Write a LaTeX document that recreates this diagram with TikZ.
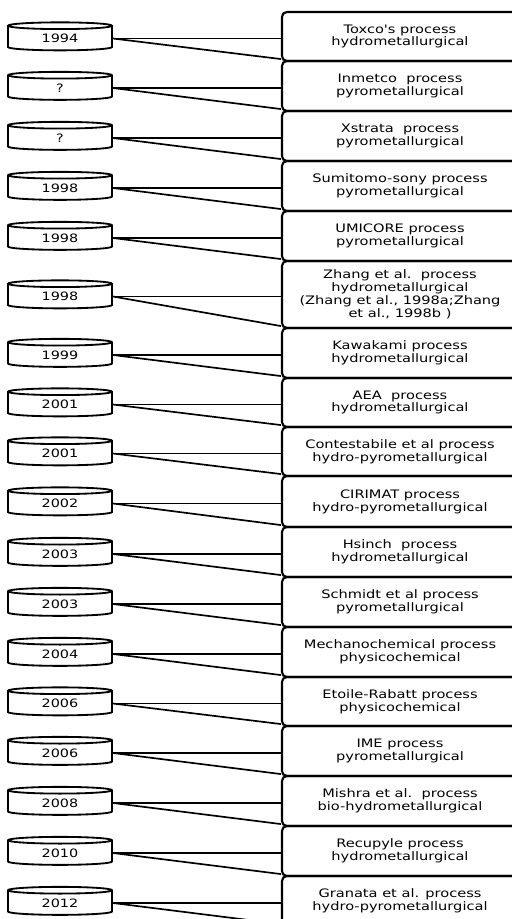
\documentclass[tikz,border=0pt]{standalone}
\usepackage{fontspec}
\setmainfont[FakeStretch=1.25, Ligatures=TeXOff]{DejaVu Sans}
\usetikzlibrary{shapes.geometric, calc}

\tikzset{
  yeardisk/.style={cylinder, shape border rotate=90, draw, line width=1.3pt,
    minimum width=2.6cm, minimum height=0.7cm, aspect=0.07, inner sep=0pt,
    text width=2.4cm, align=center, font=\fontsize{8.2}{8}\selectfont},
  procbox/.style={rectangle, rounded corners=3.5pt, draw, line width=1.5pt,
    minimum width=5.9cm, align=center, inner sep=0pt,
    font=\fontsize{8.3}{9.1}\selectfont},
  link/.style={line width=1.2pt}
}

\begin{document}
\begin{tikzpicture}[x=0.025cm, y=-0.025cm]
  \useasboundingbox (0,0) rectangle (512,919);
  \clip (0,0) rectangle (512,919);
  % year disks on the left, process boxes on the right
  \foreach \n/\ymid/\hgt/\yr/\txt in {
    1/36.5/49/1994/{Toxco's process\\hydrometallurgical},
    2/86/50/?/{Inmetco\ \ process\\pyrometallurgical},
    3/136/50/?/{Xstrata\ \ process\\pyrometallurgical},
    4/186/50/1998/{Sumitomo-sony process\\pyrometallurgical},
    5/236/50/1998/{UMICORE process\\pyrometallurgical},
    6/294.5/67/1998/{Zhang et al.\ \ process\\hydrometallurgical\\(Zhang et al., 1998a;Zhang\\et al., 1998b )},
    7/353/50/1999/{Kawakami process\\hydrometallurgical},
    8/402.5/49/2001/{AEA\ \ process\\hydrometallurgical},
    9/451.5/49/2001/{Contestabile et al process\\hydro-pyrometallurgical},
    10/501.5/51/2002/{CIRIMAT process\\hydro-pyrometallurgical},
    11/552/50/2003/{Hsinch\ \ process\\hydrometallurgical},
    12/602/50/2003/{Schmidt et al process\\pyrometallurgical},
    13/652/50/2004/{Mechanochemical process\\physicochemical},
    14/701.5/49/2006/{Etoile-Rabatt process\\physicochemical},
    15/751/50/2006/{IME process\\pyrometallurgical},
    16/801/50/2008/{Mishra et al.\ \ process\\bio-hydrometallurgical},
    17/851/50/2010/{Recupyle process\\hydrometallurgical},
    18/901/50/2012/{Granata et al. process\\hydro-pyrometallurgical}}{
    \node[procbox, minimum height=\hgt*0.025cm] (b\n) at (400,\ymid) {\txt};
    \node[yeardisk] (d\n) at (60,\ymid+2) {\raisebox{-2.5pt}{\yr}};
    \draw[link] (d\n.east) -- (d\n.east -| b\n.west);
    \draw[link] (d\n.east) -- ($(b\n.south west)+(0,-3)$);
  }
\end{tikzpicture}
\end{document}
